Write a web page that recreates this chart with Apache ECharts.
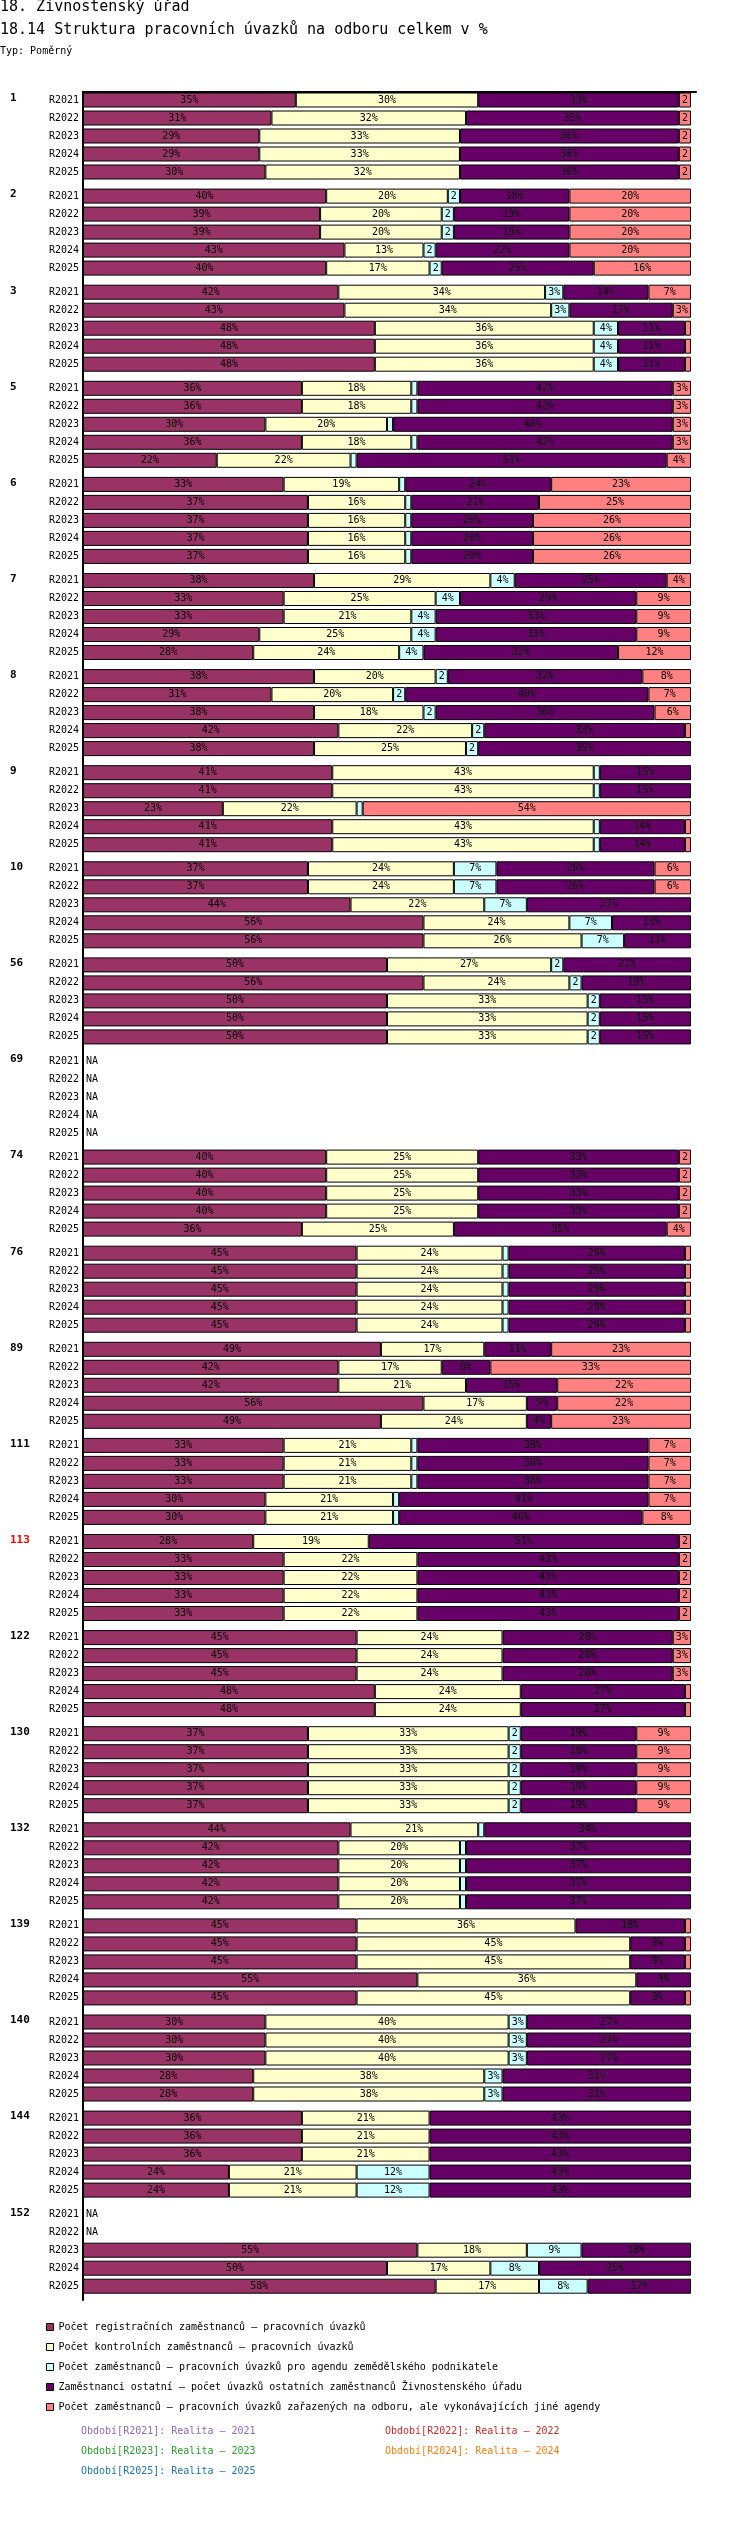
<!DOCTYPE html>
<html>
<head>
<meta charset="utf-8">
<title>18.14 Struktura pracovních úvazků na odboru celkem v %</title>
<script src="https://cdn.jsdelivr.net/npm/echarts@6/dist/echarts.min.js"></script>
<style>
  html, body { margin: 0; padding: 0; background: #fff; }
  #chart { width: 750px; height: 2530px; }
</style>
</head>
<body>
<div id="chart"></div>
<script>
const groups = ["1", "2", "3", "5", "6", "7", "8", "9", "10", "56", "69", "74", "76", "89", "111", "113", "122", "130", "132", "139", "140", "144", "152"];
const highlightedGroups = ["113"];
const periods = ["R2021", "R2022", "R2023", "R2024", "R2025"];

// one row per group, one value per period, null = NA
const registracni = [
  [35, 31, 29, 29, 30], [40, 39, 39, 43, 40], [42, 43, 48, 48, 48], [36, 36, 30, 36, 22],
  [33, 37, 37, 37, 37], [38, 33, 33, 29, 28], [38, 31, 38, 42, 38], [41, 41, 23, 41, 41],
  [37, 37, 44, 56, 56], [50, 56, 50, 50, 50], [null, null, null, null, null], [40, 40, 40, 40, 36],
  [45, 45, 45, 45, 45], [49, 42, 42, 56, 49], [33, 33, 33, 30, 30], [28, 33, 33, 33, 33],
  [45, 45, 45, 48, 48], [37, 37, 37, 37, 37], [44, 42, 42, 42, 42], [45, 45, 45, 55, 45],
  [30, 30, 30, 28, 28], [36, 36, 36, 24, 24], [null, null, 55, 50, 58],
];
const kontrolni = [
  [30, 32, 33, 33, 32], [20, 20, 20, 13, 17], [34, 34, 36, 36, 36], [18, 18, 20, 18, 22],
  [19, 16, 16, 16, 16], [29, 25, 21, 25, 24], [20, 20, 18, 22, 25], [43, 43, 22, 43, 43],
  [24, 24, 22, 24, 26], [27, 24, 33, 33, 33], [null, null, null, null, null], [25, 25, 25, 25, 25],
  [24, 24, 24, 24, 24], [17, 17, 21, 17, 24], [21, 21, 21, 21, 21], [19, 22, 22, 22, 22],
  [24, 24, 24, 24, 24], [33, 33, 33, 33, 33], [21, 20, 20, 20, 20], [36, 45, 45, 36, 45],
  [40, 40, 40, 38, 38], [21, 21, 21, 21, 21], [null, null, 18, 17, 17],
];
const zemedelske = [
  [0, 0, 0, 0, 0], [2, 2, 2, 2, 2], [3, 3, 4, 4, 4], [1, 1, 1, 1, 1],
  [1, 1, 1, 1, 1], [4, 4, 4, 4, 4], [2, 2, 2, 2, 2], [1, 1, 1, 1, 1],
  [7, 7, 7, 7, 7], [2, 2, 2, 2, 2], [null, null, null, null, null], [0, 0, 0, 0, 0],
  [1, 1, 1, 1, 1], [0, 0, 0, 0, 0], [1, 1, 1, 1, 1], [0, 0, 0, 0, 0],
  [0, 0, 0, 0, 0], [2, 2, 2, 2, 2], [1, 1, 1, 1, 1], [0, 0, 0, 0, 0],
  [3, 3, 3, 3, 3], [0, 0, 0, 12, 12], [null, null, 9, 8, 8],
];
const ostatni = [
  [33, 35, 36, 36, 36], [18, 19, 19, 22, 25], [14, 17, 11, 11, 11], [42, 42, 46, 42, 51],
  [24, 21, 20, 20, 20], [25, 29, 33, 33, 32], [32, 40, 36, 33, 35], [15, 15, 0, 14, 14],
  [26, 26, 27, 13, 11], [21, 18, 15, 15, 15], [null, null, null, null, null], [33, 33, 33, 33, 35],
  [29, 29, 29, 29, 29], [11, 8, 15, 5, 4], [38, 38, 38, 41, 40], [51, 43, 43, 43, 43],
  [28, 28, 28, 27, 27], [19, 19, 19, 19, 19], [34, 37, 37, 37, 37], [18, 9, 9, 9, 9],
  [27, 27, 27, 31, 31], [43, 43, 43, 43, 43], [null, null, 18, 25, 17],
];
const jineAgendy = [
  [2, 2, 2, 2, 2], [20, 20, 20, 20, 16], [7, 3, 1, 1, 1], [3, 3, 3, 3, 4],
  [23, 25, 26, 26, 26], [4, 9, 9, 9, 12], [8, 7, 6, 1, 0], [0, 0, 54, 1, 1],
  [6, 6, 0, 0, 0], [0, 0, 0, 0, 0], [null, null, null, null, null], [2, 2, 2, 2, 4],
  [1, 1, 1, 1, 1], [23, 33, 22, 22, 23], [7, 7, 7, 7, 8], [2, 2, 2, 2, 2],
  [3, 3, 3, 1, 1], [9, 9, 9, 9, 9], [0, 0, 0, 0, 0], [1, 1, 1, 0, 1],
  [0, 0, 0, 0, 0], [0, 0, 0, 0, 0], [null, null, 0, 0, 0],
];

const seriesNames = [
  "Počet registračních zaměstnanců – pracovních úvazků",
  "Počet kontrolních zaměstnanců – pracovních úvazků",
  "Počet zaměstnanců – pracovních úvazků pro agendu zemědělského podnikatele",
  "Zaměstnanci ostatní – počet úvazků ostatních zaměstnanců Živnostenského úřadu",
  "Počet zaměstnanců – pracovních úvazků zařazených na odboru, ale vykonávajících jiné agendy",
];
const seriesValues = [registracni, kontrolni, zemedelske, ostatni, jineAgendy];
const seriesColors = ["#993366", "#FFFFCC", "#CCFFFF", "#660066", "#FF8080"];

const periodNotes = ["Období[R2021]: Realita – 2021", "Období[R2022]: Realita – 2022", "Období[R2023]: Realita – 2023", "Období[R2024]: Realita – 2024", "Období[R2025]: Realita – 2025"];
const periodColors = ["#9467bd", "#d62728", "#2ca02c", "#ff7f0e", "#1f77b4"];

const MONO = "'DejaVu Sans Mono', monospace";
const PLOT_LEFT = 83;
const PLOT_WIDTH = 608;
const FIRST_TOP = 91;
const GROUP_STEP = 96.1;
const ROW_H = 18;

const chart = echarts.init(document.getElementById("chart"));

function makeItem(v, isFirst) {
  if (v === null) {
    if (!isFirst) return "-";
    return {
      value: 0,
      itemStyle: { borderWidth: 0 },
      label: { show: true, position: "right", distance: 3, formatter: "NA", width: null, overflow: "none" },
    };
  }
  if (v === 0) return "-";
  return { value: v, label: { width: (v * PLOT_WIDTH) / 100, overflow: "truncate", ellipsis: "" } };
}

const grids = [{ left: PLOT_LEFT, width: PLOT_WIDTH + 5, top: 92, height: 2208 }];
const xAxes = [
  {
    gridIndex: 0, type: "value", position: "top", min: 0, max: 100,
    axisLine: { show: true, onZero: false, lineStyle: { color: "#000", width: 2 } },
    axisTick: { show: false }, axisLabel: { show: false }, splitLine: { show: false },
  },
];
const yAxes = [
  {
    gridIndex: 0, type: "value", min: 0, max: 1,
    axisLine: { show: true, onZero: false, lineStyle: { color: "#000", width: 2 } },
    axisTick: { show: false }, axisLabel: { show: false }, splitLine: { show: false },
  },
];
const series = [];
const graphics = [];

groups.forEach((g, gi) => {
  const top = FIRST_TOP + gi * GROUP_STEP;
  grids.push({ left: PLOT_LEFT, width: PLOT_WIDTH, top: top, height: ROW_H * periods.length });
  xAxes.push({ gridIndex: gi + 1, type: "value", min: 0, max: 100, show: false });
  yAxes.push({
    gridIndex: gi + 1, type: "category", inverse: true, data: periods,
    axisLine: { show: false }, axisTick: { show: false }, splitLine: { show: false },
    axisLabel: { color: "#000", fontFamily: MONO, fontSize: 10, margin: 4 },
  });
  seriesNames.forEach((name, si) => {
    series.push({
      type: "bar",
      name: name,
      stack: "g" + gi,
      xAxisIndex: gi + 1,
      yAxisIndex: gi + 1,
      barWidth: 15,
      itemStyle: { color: seriesColors[si], borderColor: "#000", borderWidth: 1 },
      label: { show: true, position: "inside", formatter: "{c}%", color: "#000", fontFamily: MONO, fontSize: 10 },
      data: seriesValues[si][gi].map((v) => makeItem(v, si === 0)),
    });
  });
  graphics.push({
    type: "text", left: 10, top: top + ROW_H / 2 - 7,
    style: {
      text: g, fontFamily: MONO, fontSize: 11, fontWeight: "bold",
      fill: highlightedGroups.includes(g) ? "#ff0000" : "#000",
    },
  });
});

graphics.push(
  { type: "text", left: 0, top: 0, style: { text: "18. Živnostenský úřad", fontFamily: MONO, fontSize: 15, fill: "#000" } },
  { type: "text", left: 0, top: 23, style: { text: "18.14 Struktura pracovních úvazků na odboru celkem v %", fontFamily: MONO, fontSize: 15, fill: "#000" } },
  { type: "text", left: 0, top: 46, style: { text: "Typ: Poměrný", fontFamily: MONO, fontSize: 10, fill: "#000" } },
);
periodNotes.forEach((txt, i) => {
  graphics.push({
    type: "text",
    left: i % 2 === 0 ? 81 : 385,
    top: 2426 + Math.floor(i / 2) * 20,
    style: { text: txt, fontFamily: MONO, fontSize: 10, fill: periodColors[i] },
  });
});

chart.setOption({
  animation: false,
  backgroundColor: "#fff",
  grid: grids,
  xAxis: xAxes,
  yAxis: yAxes,
  series: series,
  legend: {
    data: seriesNames,
    orient: "vertical",
    left: 46,
    top: 2320,
    padding: 0,
    itemWidth: 7,
    itemHeight: 7,
    itemGap: 6,
    selectedMode: false,
    icon: "rect",
    itemStyle: { borderColor: "#000", borderWidth: 1 },
    textStyle: { color: "#000", fontFamily: MONO, fontSize: 10, lineHeight: 14 },
  },
  graphic: graphics,
});
</script>
</body>
</html>
